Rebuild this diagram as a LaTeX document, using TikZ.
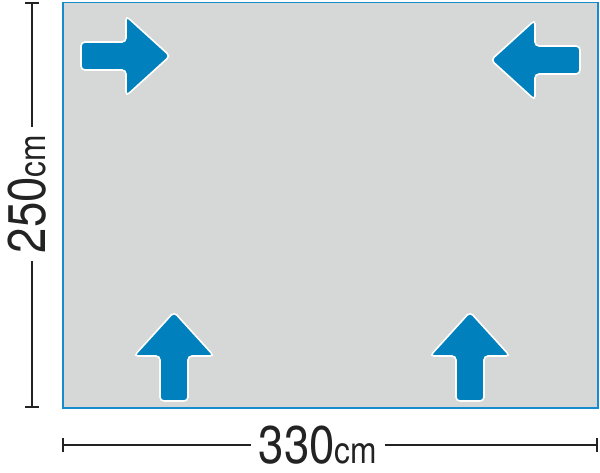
\documentclass[tikz,border=0pt]{standalone}
\usepackage{fontspec}
\setmainfont{TeX Gyre Heros}
\usetikzlibrary{positioning}

\definecolor{floorgrey}{RGB}{214,215,215}
\definecolor{markblue}{RGB}{0,128,188}
\definecolor{edgeblue}{RGB}{20,140,205}
\definecolor{dimgrey}{RGB}{35,35,35}

\tikzset{
  floorarrow/.pic={
    \fill[markblue,draw=white,line width=1.6pt,rounded corners=4pt]
      (0,0) -- (-44,40) -- (-44,14) -- (-89,14) -- (-89,-14)
      -- (-44,-14) -- (-44,-40) -- cycle;
  },
  dimline/.style={draw=dimgrey,line width=1.5pt},
  dimlabel/.style={text=dimgrey,inner ysep=0pt,inner xsep=9pt,xscale=0.86,
    font=\fontsize{53}{53}\selectfont},
}

\begin{document}
\begin{tikzpicture}[x=1pt,y=1pt]
\useasboundingbox (0,0) rectangle (600,472);

\node[draw=edgeblue,line width=1.5pt,fill=floorgrey,inner sep=0pt,
  minimum width=535pt,minimum height=405pt,anchor=north west] (floor) at (62,470) {};

\pic at (170,416) {floorarrow};
\pic[rotate=180] at (491,412) {floorarrow};
\pic[rotate=90] at (174,160) {floorarrow};
\pic[rotate=90] at (470,160) {floorarrow};

% height
\coordinate (vtop) at (32,469);
\coordinate (vbot) at (32,65);
\node[rotate=90,dimlabel] (vlabel) at (27,278) {250{\fontsize{37}{37}\selectfont cm}};
\draw[dimline] (vtop) -- (vtop |- vlabel.east);
\draw[dimline] (vbot |- vlabel.west) -- (vbot);
\draw[dimline] ([xshift=-7pt]vtop) -- ([xshift=7pt]vtop);
\draw[dimline] ([xshift=-7pt]vbot) -- ([xshift=7pt]vbot);

% width
\coordinate (hleft) at (63,27);
\coordinate (hright) at (597,27);
\node[dimlabel] (hlabel) at (318,27) {330{\fontsize{37}{37}\selectfont cm}};
\draw[dimline] (hleft) -- (hlabel.west);
\draw[dimline] (hlabel.east) -- (hright);
\draw[dimline] ([yshift=-7pt]hleft) -- ([yshift=7pt]hleft);
\draw[dimline] ([yshift=-7pt]hright) -- ([yshift=7pt]hright);
\end{tikzpicture}
\end{document}
